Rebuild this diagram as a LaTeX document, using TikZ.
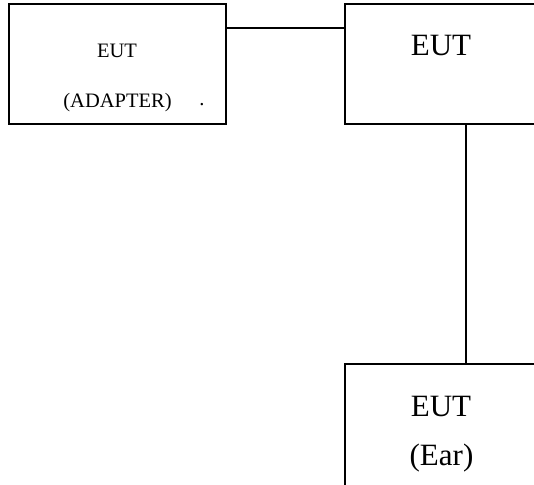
\documentclass[tikz,border=0pt]{standalone}
\usepackage{fontspec}
\setmainfont{Liberation Serif}
\tikzset{block/.style = {draw, fill=white, line width=1.6pt, rectangle, inner sep=0pt, outer sep=0pt},
         smalltxt/.style = {font=\fontsize{20.5}{24}\selectfont, anchor=base, inner sep=0pt},
         bigtxt/.style = {font=\fontsize{31}{36}\selectfont, anchor=base, inner sep=0pt}}

\begin{document}
\begin{tikzpicture}[x=1pt, y=-1pt]
    \clip (0,0) rectangle (534,484);
    \useasboundingbox (0,0) rectangle (534,484);
    \node[block, minimum width=217, minimum height=120](adapter)at(117.5,64){};
    \node[block, minimum width=192, minimum height=120](eut)at(441,64){};
    \node[block, minimum width=192, minimum height=130](ear)at(441,429){};

    \node[smalltxt](adaptertop)at(117,58){EUT};
    \node[smalltxt](adapterbot)at(117.5,107){(ADAPTER)};
    \node[smalltxt](dot)at(202,105){.};
    \node[bigtxt](euttxt)at(441,56){EUT};
    \node[bigtxt](eartop)at(441,416){EUT};
    \node[bigtxt](earbot)at(441.5,465){(Ear)};

    \draw[line width=1.6pt]([yshift=-24pt]adapter.north east)--([yshift=-24pt]eut.north west);
    \draw[line width=1.6pt]([xshift=25pt]eut.south)--([xshift=25pt]ear.north);
\end{tikzpicture}
\end{document}
